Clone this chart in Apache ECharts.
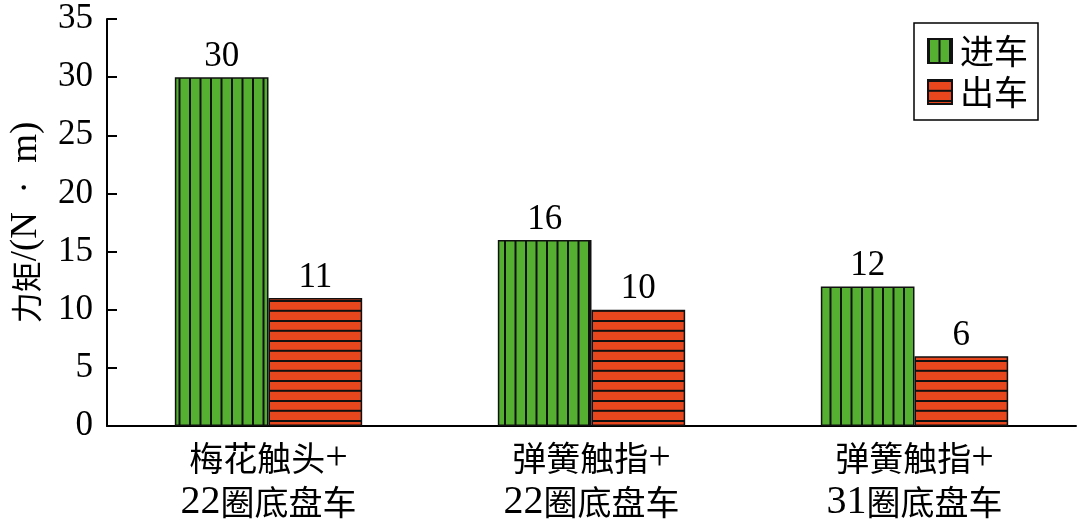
<!DOCTYPE html>
<html><head><meta charset="utf-8">
<script src="https://cdn.jsdelivr.net/npm/echarts@6/dist/echarts.min.js"></script>
<style>html,body{margin:0;padding:0;background:#fff}#c{width:1080px;height:530px}</style>
</head><body><div id="c"></div>
<script>
const categories = ['梅花触头+\n22圈底盘车', '弹簧触指+\n22圈底盘车', '弹簧触指+\n31圈底盘车'];
const seriesNames = ['进车', '出车'];
const inValues = [30, 16, 12];
const outValues = [11, 10, 6];
const yTicks = { min: 0, max: 35, interval: 5 };
const yName = ['力矩', '/(N\u2002·\u2002m)'];

const SERIF = '"Liberation Serif", "Noto Sans CJK SC", serif';
const CJK = '"Noto Sans CJK SC", sans-serif';
const GREEN = '#55b032';
const RED = '#e8471e';

function vPattern() {
  const c = document.createElement('canvas');
  c.width = 21; c.height = 10;
  const g = c.getContext('2d');
  g.fillStyle = GREEN; g.fillRect(0, 0, 21, 10);
  g.fillStyle = '#111';
  g.fillRect(0, 0, 2, 10);
  g.fillRect(10.5, 0, 2, 10);
  return c;
}
function hPattern() {
  const c = document.createElement('canvas');
  c.width = 10; c.height = 20;
  const g = c.getContext('2d');
  g.fillStyle = RED; g.fillRect(0, 0, 10, 20);
  g.fillStyle = '#111';
  g.fillRect(0, 0, 10, 2);
  g.fillRect(0, 9.8, 10, 2);
  return c;
}

function richLabel(value) {
  return value.split('\n').map(line =>
    line.match(/[0-9+]+|[^0-9+]+/g).map(seg =>
      /[0-9+]/.test(seg) ? '{n|' + seg + '}' : '{c|' + seg + '}'
    ).join('')
  ).join('\n');
}

const chart = echarts.init(document.getElementById('c'));
const labelStyle = { show: true, position: 'top', distance: 3, color: '#000', fontFamily: SERIF, fontSize: 35 };
chart.setOption({
  animation: false,
  backgroundColor: '#fff',
  grid: { left: 105, right: 4, top: 19, bottom: 104 },
  legend: {
    orient: 'vertical', right: 42, top: 23,
    data: seriesNames,
    icon: 'rect',
    itemWidth: 24, itemHeight: 24, itemGap: 7,
    padding: [11, 10, 11, 13],
    borderColor: '#000', borderWidth: 1.5,
    textStyle: { fontFamily: CJK, fontSize: 34, color: '#000', padding: [0, 0, 0, 3] }
  },
  xAxis: {
    type: 'category', data: categories,
    axisLine: { lineStyle: { color: '#000', width: 2 } },
    axisTick: { inside: true, length: 13, lineStyle: { color: '#000', width: 2 } },
    axisLabel: {
      margin: 10, lineHeight: 44,
      formatter: richLabel,
      rich: {
        n: { fontFamily: SERIF, fontSize: 40, color: '#000', lineHeight: 44 },
        c: { fontFamily: CJK, fontSize: 34, color: '#000', lineHeight: 44 }
      }
    }
  },
  yAxis: {
    type: 'value', min: yTicks.min, max: yTicks.max, interval: yTicks.interval,
    name: '{c|' + yName[0] + '}{n|' + yName[1] + '}', nameLocation: 'middle', nameGap: 62, nameRotate: 90,
    nameTextStyle: {
      color: '#000',
      rich: {
        c: { fontFamily: CJK, fontSize: 31, color: '#000' },
        n: { fontFamily: SERIF, fontSize: 37, color: '#000' }
      }
    },
    splitLine: { show: false },
    axisLine: { show: true, lineStyle: { color: '#000', width: 2 } },
    axisTick: { show: true, inside: true, length: 10, lineStyle: { color: '#000', width: 2 } },
    axisLabel: { fontFamily: SERIF, fontSize: 35, color: '#000', margin: 14 }
  },
  series: [
    {
      name: seriesNames[0], type: 'bar', data: inValues,
      barWidth: '29%', barGap: '0%',
      itemStyle: { color: { image: vPattern(), repeat: 'repeat' }, borderColor: '#111', borderWidth: 1.5 },
      label: labelStyle
    },
    {
      name: seriesNames[1], type: 'bar', data: outValues,
      barWidth: '29%',
      itemStyle: { color: { image: hPattern(), repeat: 'repeat' }, borderColor: '#111', borderWidth: 1.5 },
      label: labelStyle
    }
  ]
});
</script></body></html>
